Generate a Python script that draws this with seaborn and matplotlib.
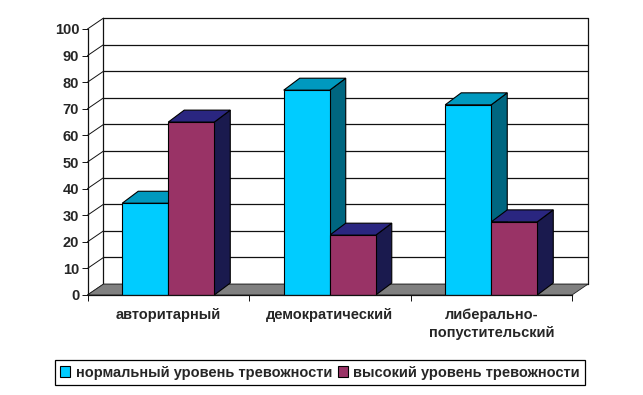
import pandas as pd
import matplotlib.pyplot as plt
import seaborn as sns
from matplotlib.patches import Polygon

# Data
categories = ['авторитарный', 'демократический', 'либерально-\nпопустительский']
series_names = ['нормальный уровень тревожности', 'высокий уровень тревожности']
normal_values = [34.5, 77, 71.5]
high_values = [65, 22.5, 27.5]
y_ticks = list(range(0, 101, 10))

front_colors = ['#00CCFF', '#993366']
side_colors = ['#006680', '#1A1A4E']
top_colors = ['#0099BF', '#2A2680']

df = pd.DataFrame({
    'style': categories * 2,
    'value': normal_values + high_values,
    'series': [series_names[0]] * 3 + [series_names[1]] * 3,
})

sns.set_style('white')
plt.rcParams['font.family'] = ['Liberation Sans', 'DejaVu Sans']
plt.rcParams['font.weight'] = 'bold'
plt.rcParams['font.size'] = 10.5

W, H = 643, 395
fig = plt.figure(figsize=(W / 100, H / 100), dpi=100)
ax = fig.add_axes([87.5 / W, 1 - 295 / H, (572 - 87.5) / W, (295 - 29) / H])

sns.barplot(data=df, x='style', y='value', hue='series', hue_order=series_names,
            palette=front_colors, saturation=1, width=0.57, gap=0,
            edgecolor='black', linewidth=0.8, ax=ax, zorder=4)
ax.set_xlim(-0.5, 2.5)
ax.set_ylim(0, 100)

# Глубина псевдо-3D в единицах данных
wall_dx, wall_dy = 0.099, 4.1
bar_dx, bar_dy = 0.099, 4.5

# Задняя стенка, левая стенка и пол
for tick in y_ticks:
    ax.plot([-0.5 + wall_dx, 2.5 + wall_dx], [tick + wall_dy] * 2, color='#111111',
            lw=0.9, clip_on=False, zorder=1)
    ax.plot([-0.5, -0.5 + wall_dx], [tick, tick + wall_dy], color='#111111',
            lw=0.7, clip_on=False, zorder=1)
ax.plot([-0.5 + wall_dx] * 2, [wall_dy, 100 + wall_dy], color='#111111', lw=0.9,
        clip_on=False, zorder=1)
ax.plot([2.5 + wall_dx] * 2, [wall_dy, 100 + wall_dy], color='#111111', lw=0.9,
        clip_on=False, zorder=1)
ax.add_patch(Polygon([(-0.5, 0), (2.5, 0), (2.5 + wall_dx, wall_dy), (-0.5 + wall_dx, wall_dy)],
                     facecolor='#808080', edgecolor='#222222', lw=0.6, clip_on=False, zorder=1.5))

# Боковые и верхние грани столбиков
for i, container in enumerate(ax.containers):
    for bar in container:
        x0, x1 = bar.get_x(), bar.get_x() + bar.get_width()
        y1 = bar.get_height()
        ax.add_patch(Polygon([(x1, 0), (x1 + bar_dx, bar_dy), (x1 + bar_dx, y1 + bar_dy), (x1, y1)],
                             facecolor=side_colors[i], edgecolor='black', lw=0.8,
                             clip_on=False, zorder=2 + i * 0.5))
        ax.add_patch(Polygon([(x0, y1), (x1, y1), (x1 + bar_dx, y1 + bar_dy), (x0 + bar_dx, y1 + bar_dy)],
                             facecolor=top_colors[i], edgecolor='black', lw=0.8,
                             clip_on=False, zorder=2 + i * 0.5))

# Оси
sns.despine(ax=ax, top=True, right=True)
for side in ['left', 'bottom']:
    ax.spines[side].set_linewidth(0.9)
    ax.spines[side].set_color('#111111')
    ax.spines[side].set_zorder(5)
ax.set_xlabel('')
ax.set_ylabel('')
ax.set_yticks(y_ticks)
ax.set_xticks(range(3))
ax.set_xticklabels(categories, linespacing=1.42, va='top')
ax.set_xticks([-0.5, 0.5, 1.5, 2.5], minor=True)
ax.tick_params(axis='x', which='major', length=0, pad=9, labelsize=10.5)
ax.tick_params(axis='x', which='minor', bottom=True, length=4, width=0.7, color='#111111')
ax.tick_params(axis='y', left=True, length=4, width=0.7, color='#111111', pad=2, labelsize=10.5)

# Легенда
handles, labels = ax.get_legend_handles_labels()
ax.legend(handles, labels, ncol=2, loc='center', fontsize=10.5,
          bbox_to_anchor=(320 / W, 1 - 372.5 / H), bbox_transform=fig.transFigure,
          frameon=True, fancybox=False, framealpha=1, edgecolor='black',
          handlelength=0.7, handleheight=0.7, handletextpad=0.35, columnspacing=0.4,
          borderpad=0.36, borderaxespad=0)
ax.get_legend().get_frame().set_linewidth(0.9)

plt.savefig('out.png', dpi=100)
